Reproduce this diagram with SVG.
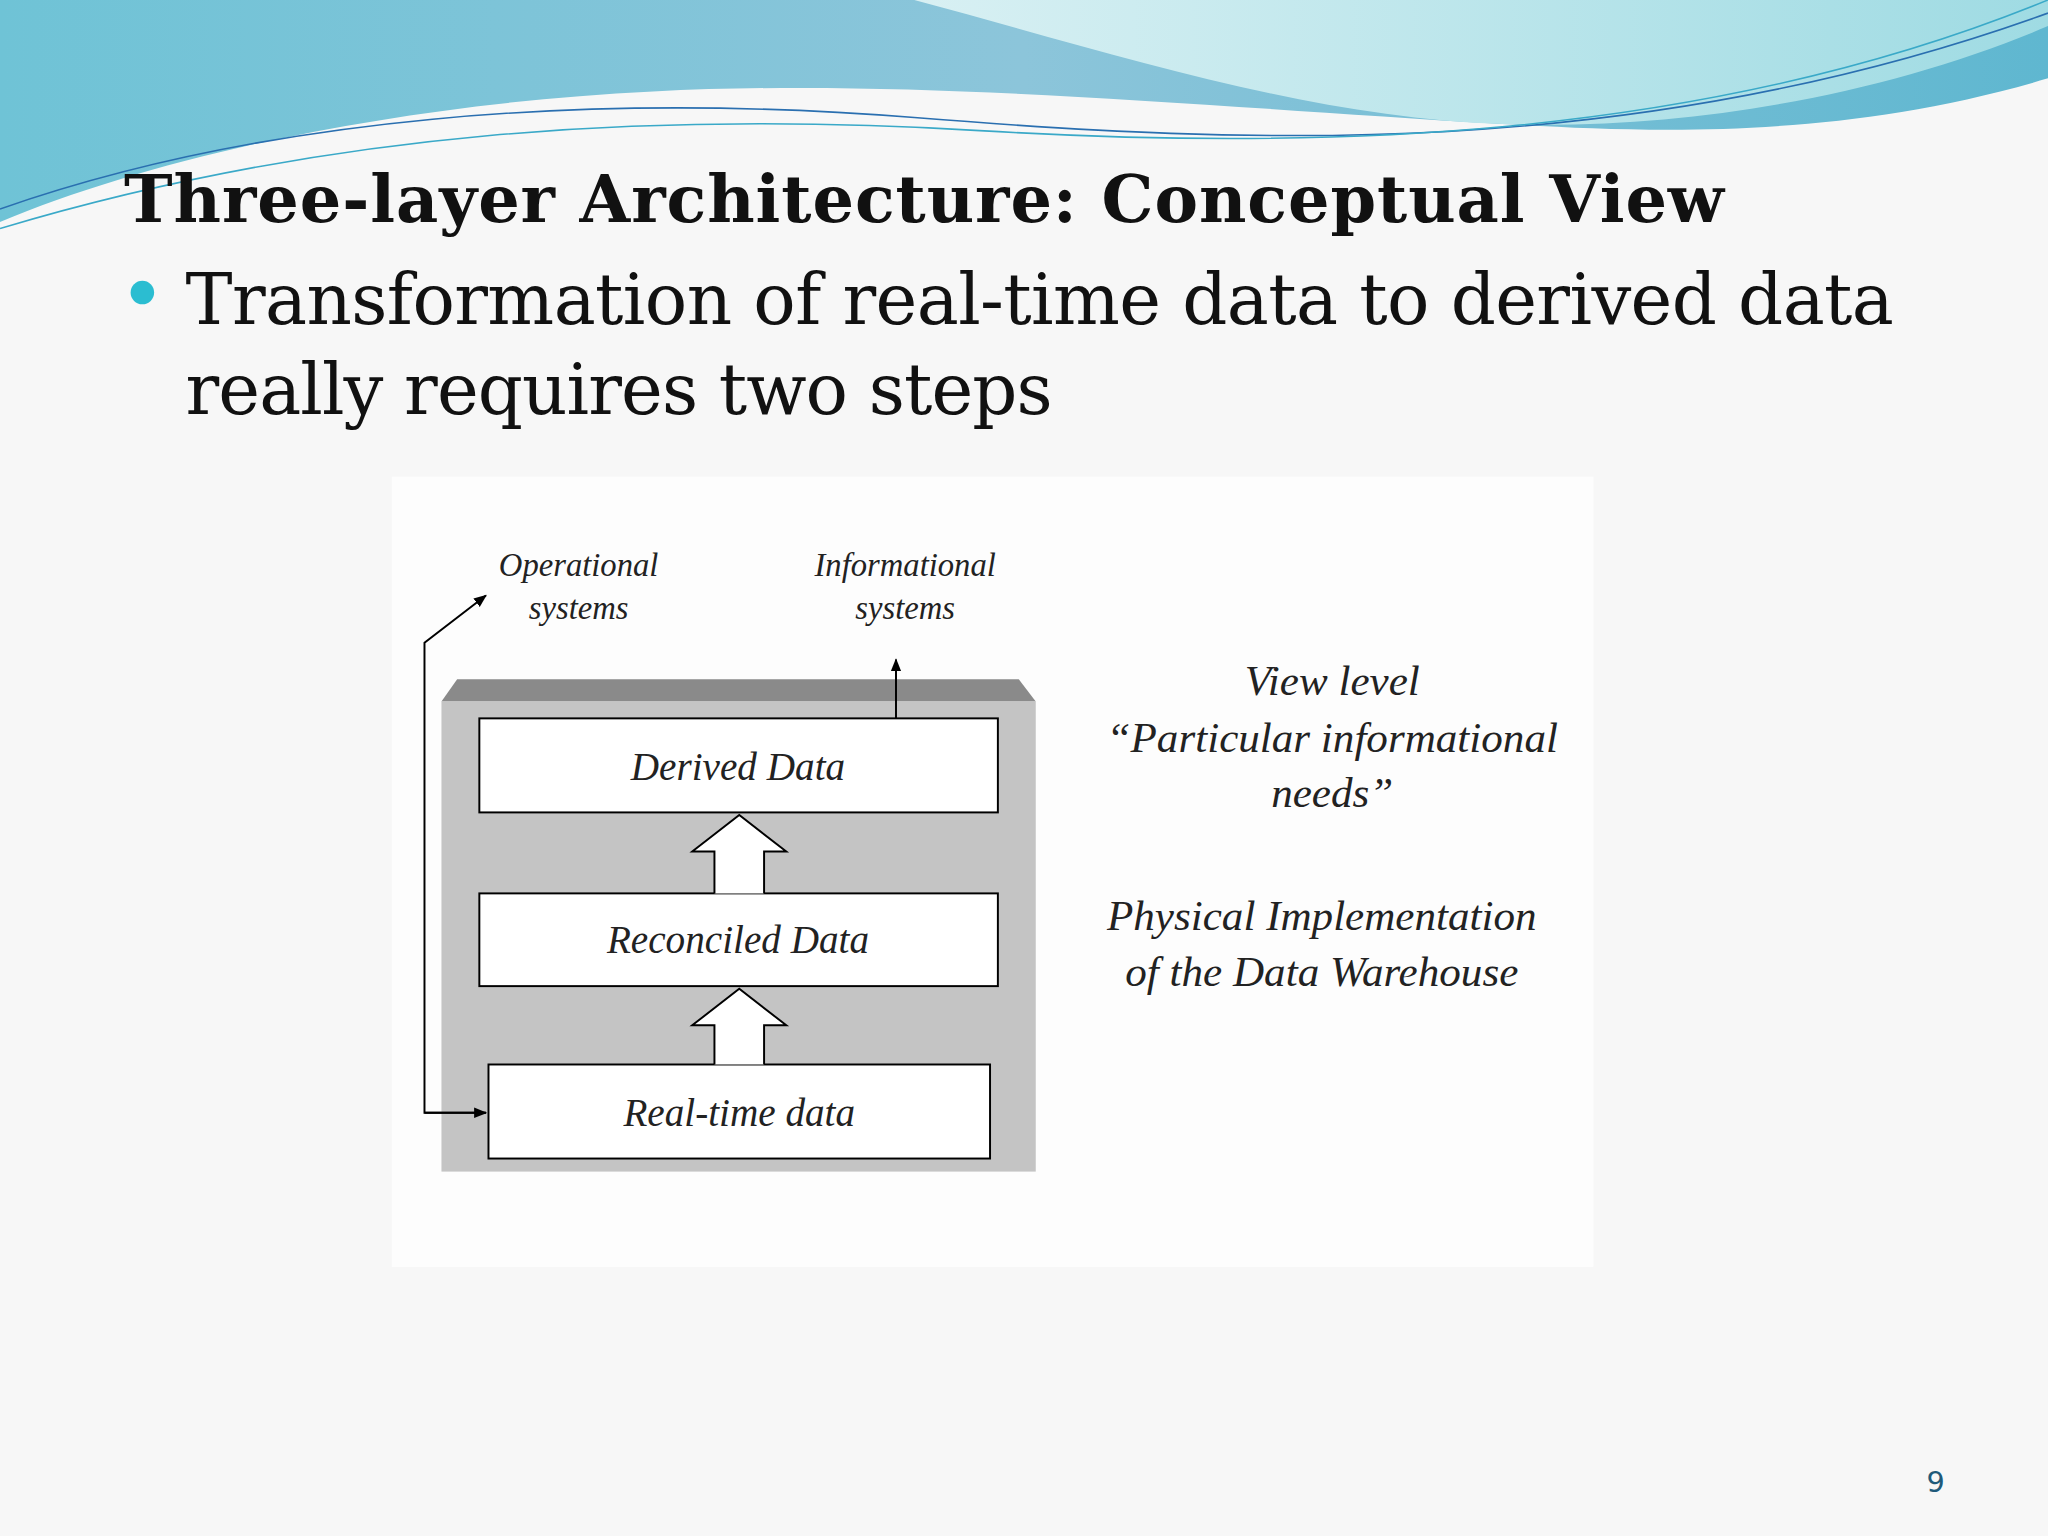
<svg xmlns="http://www.w3.org/2000/svg" width="2048" height="1536" viewBox="0 0 2048 1536">
<defs>
<linearGradient id="w1" x1="0" y1="0" x2="1" y2="0"><stop offset="0" stop-color="#6fc3d6"/><stop offset="0.5" stop-color="#8cc5da"/><stop offset="1" stop-color="#5fb7d0"/></linearGradient>
<linearGradient id="w2" x1="0" y1="0" x2="1" y2="0"><stop offset="0" stop-color="#d8f0f3"/><stop offset="1" stop-color="#9fdbe3"/></linearGradient>
<marker id="ah" markerWidth="10" markerHeight="10" refX="9" refY="5" orient="auto" markerUnits="userSpaceOnUse"><path d="M0,1 L10,5 L0,9 z" fill="#000"/></marker>
<style>
.it{font-family:"Liberation Serif","DejaVu Serif",serif;font-style:italic;fill:#222}
.box{fill:#fff;stroke:#000;stroke-width:1.5}
.ln{fill:none;stroke:#000;stroke-width:1.5}
</style>
</defs>
<rect width="2048" height="1536" fill="#f7f7f7"/>
<g transform="scale(1.30612)">
<path d="M0,0 H1568 V60 C1400,110 1250,100 1150,95 C900,80 700,60 500,70 C300,80 120,120 0,170 Z" fill="url(#w1)"/>
<path d="M700,0 H1568 V20 C1450,70 1300,100 1150,95 C1000,90 850,40 700,0 Z" fill="url(#w2)"/>
<path d="M0,160 C200,90 450,70 700,90 C950,110 1250,125 1568,10" class="ln" stroke="#2a6fb0" style="stroke:#2a6fb0;stroke-width:1.2"/>
<path d="M0,175 C250,100 500,85 750,100 C1000,115 1300,110 1568,0" style="fill:none;stroke:#3aa9c8;stroke-width:1.2"/>
<text x="95" y="170" font-family="DejaVu Serif,serif" font-weight="bold" font-size="50" fill="#111" textLength="1225">Three-layer Architecture: Conceptual View</text>
<circle cx="109" cy="224" r="9" fill="#2bbdd1"/>
<text x="142" y="248" font-family="DejaVu Serif,serif" font-size="54" fill="#111" textLength="1308">Transformation of real-time data to derived data</text>
<text x="142" y="317" font-family="DejaVu Serif,serif" font-size="54" fill="#111" textLength="664">really requires two steps</text>
<rect x="300" y="365" width="920" height="605" fill="#fdfdfd"/>
<g id="container"><path d="M350,520 H780 L793,537 H338 Z" fill="#8a8a8a"/><rect x="338" y="537" width="455" height="360" fill="#c4c4c4"/></g>
<g id="derived"><rect class="box" x="367" y="550" width="397" height="72"/><text class="it" x="565" y="597" font-size="30" text-anchor="middle">Derived Data</text></g>
<g id="reconciled"><rect class="box" x="367" y="684" width="397" height="71"/><text class="it" x="565" y="730" font-size="30" text-anchor="middle">Reconciled Data</text></g>
<g id="realtime"><rect class="box" x="374" y="815" width="384" height="72"/><text class="it" x="566" y="862" font-size="30" text-anchor="middle">Real-time data</text></g>
<g id="labels">
<text class="it" font-size="25" text-anchor="middle"><tspan x="443" y="441">Operational</tspan><tspan x="443" y="474">systems</tspan></text>
<text class="it" font-size="25" text-anchor="middle"><tspan x="693" y="441">Informational</tspan><tspan x="693" y="474">systems</tspan></text>
<text class="it" font-size="33" text-anchor="middle"><tspan x="1020" y="532">View level</tspan><tspan x="1020" y="576">“Particular informational</tspan><tspan x="1020" y="618">needs”</tspan></text>
<text class="it" font-size="33" text-anchor="middle"><tspan x="1012" y="712">Physical Implementation</tspan><tspan x="1012" y="755">of the Data Warehouse</tspan></text>
</g>
<g id="connectors">
<path d="M547,684 V652 H530 L566,624 L602,652 H585 V684" fill="#fff" stroke="#000" stroke-width="1.5"/>
<path d="M547,815 V785 H530 L566,757 L602,785 H585 V815" fill="#fff" stroke="#000" stroke-width="1.5"/>
<path class="ln" d="M686,550 V505" marker-end="url(#ah)"/>
<path class="ln" d="M372,852 H325 V492 L372,456" marker-end="url(#ah)"/>
<path class="ln" d="M325,852 H372" marker-end="url(#ah)"/>
</g>
<text x="1482" y="1142" font-family="DejaVu Sans,sans-serif" font-size="22" fill="#1f5a7a" text-anchor="middle">9</text>
</g>
</svg>
